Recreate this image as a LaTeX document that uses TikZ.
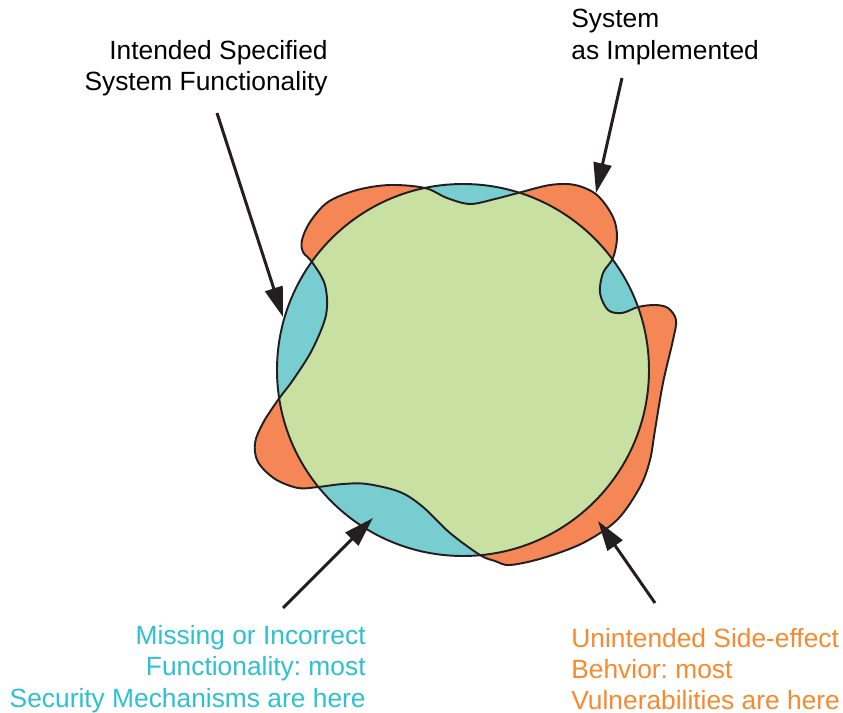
\documentclass[tikz,border=0pt]{standalone}
\usepackage{fontspec}
\setmainfont{Liberation Sans}
\usepackage{xcolor}
\usepackage{tikz}
\usetikzlibrary{arrows.meta}
\frenchspacing

\definecolor{blobOrange}{HTML}{F58656}
\definecolor{specGreen}{HTML}{C9E0A3}
\definecolor{gapCyan}{HTML}{77CDCF}
\definecolor{txtCyan}{HTML}{2DC0D3}
\definecolor{txtOrange}{HTML}{F58A2F}
\definecolor{inkBlack}{HTML}{231F20}

\tikzset{
  outline/.style={draw=inkBlack, line width=1.1pt},
  pointer/.style={draw=inkBlack, line width=1.7pt, -{Triangle[length=0.6cm, width=0.36cm]}},
  lbl/.style={inner sep=0pt, font=\fontsize{15pt}{17.8pt}\selectfont}
}

\begin{document}
\begin{tikzpicture}[x=0.02cm, y=-0.02cm]

\useasboundingbox (0,0) rectangle (843,713);

\def\specCircle{(463,370) circle [radius=186]}
\def\implBlob{plot[smooth cycle, tension=0.55] coordinates {
  (425,188) (447,198) (470,204) (495,199) (518,193) (550,185) (575,185)
  (597,195) (613,217) (617,237) (613,258) (603,273) (600,293) (608,310)
  (622,313) (638,307) (655,305) (668,308) (676,320) (673,340) (663,383)
  (655,430) (650,460) (640,487) (617,520) (583,543) (543,558) (510,565)
  (495,561) (480,555) (450,533) (423,507) (400,492) (367,484) (343,484)
  (318,487) (298,488) (275,479) (258,462) (255,443) (263,423) (278,400)
  (293,380) (312,350) (326,315) (325,285) (312,262) (303,252) (302,240)
  (310,222) (328,202) (357,190) (390,185)}}

% fills
\fill[gapCyan] \specCircle;
\fill[blobOrange] \implBlob;
\begin{scope}
  \clip \specCircle;
  \fill[specGreen] \implBlob;
\end{scope}

% outlines
\draw[outline] \specCircle;
\draw[outline] \implBlob;

% labels
\node[lbl, anchor=east, align=right] (spec) at (328,68) {Intended Specified\\System Functionality};
\node[lbl, anchor=west, align=left] (impl) at (571,37) {System\\as Implemented};
\node[lbl, anchor=east, align=right, text=txtCyan] (missing) at (366,669) {Missing or Incorrect\\Functionality: most\\Security Mechanisms are here};
\node[lbl, anchor=west, align=left, text=txtOrange] (sideeffect) at (571,669) {Unintended Side-effect\\Behvior: most\\Vulnerabilities are here};

% arrows
\coordinate (specTail) at (217,113);
\coordinate (specTip) at (283,317);
\coordinate (implTail) at (622,78);
\coordinate (implTip) at (596,193);
\coordinate (missTail) at (283,608);
\coordinate (missTip) at (373,518);
\coordinate (sideTail) at (655,603);
\coordinate (sideTip) at (598,521);

\draw[pointer] (specTail) -- (specTip);
\draw[pointer] (implTail) -- (implTip);
\draw[pointer] (missTail) -- (missTip);
\draw[pointer] (sideTail) -- (sideTip);

\end{tikzpicture}
\end{document}
